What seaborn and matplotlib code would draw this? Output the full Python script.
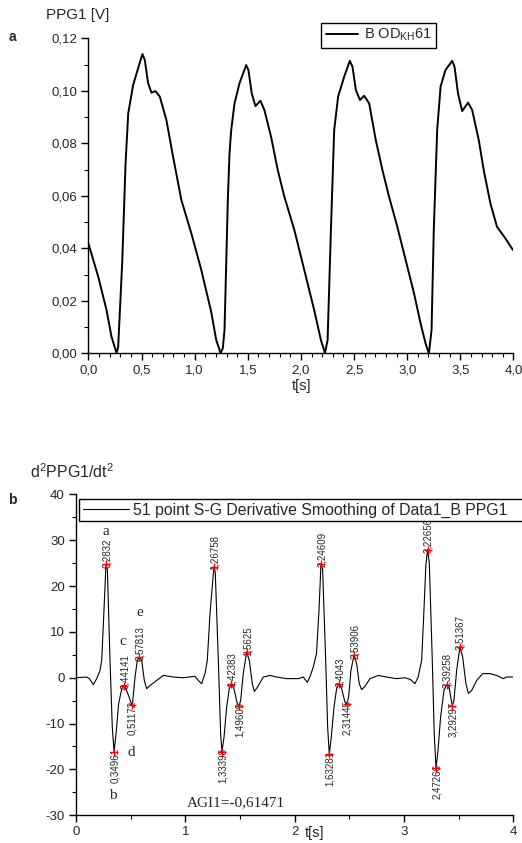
import matplotlib
matplotlib.use("Agg")
import matplotlib.pyplot as plt
import seaborn as sns
import pandas as pd
from matplotlib.ticker import MultipleLocator, FuncFormatter

# --- dane ---
# (a) sygnal PPG1 [V]
ppg_t = [0.000, 0.093, 0.171, 0.218, 0.265, 0.280, 0.318, 0.350, 0.375, 0.421, 0.468, 0.509,
         0.531, 0.562, 0.594, 0.631, 0.672, 0.734, 0.797, 0.875, 0.969, 1.063, 1.156, 1.203,
         1.244, 1.265, 1.281, 1.313, 1.328, 1.344, 1.375, 1.422, 1.485, 1.506, 1.537, 1.572,
         1.619, 1.656, 1.719, 1.782, 1.844, 1.938, 2.032, 2.125, 2.188, 2.226, 2.251, 2.282,
         2.313, 2.350, 2.407, 2.460, 2.485, 2.517, 2.555, 2.595, 2.642, 2.704, 2.767, 2.829,
         2.907, 2.986, 3.064, 3.126, 3.173, 3.204, 3.229, 3.250, 3.282, 3.314, 3.360, 3.423,
         3.445, 3.478, 3.517, 3.573, 3.611, 3.673, 3.720, 3.783, 3.845, 3.924, 3.995]
ppg_v = [0.0419, 0.0292, 0.0165, 0.0063, 0.0002, 0.0023, 0.0343, 0.0724, 0.0914, 0.1022, 0.1086, 0.1140,
         0.1117, 0.1029, 0.0993, 0.0999, 0.0978, 0.0889, 0.0749, 0.0584, 0.0457, 0.0317, 0.0158, 0.0051,
         0.0002, 0.0020, 0.0089, 0.0597, 0.0762, 0.0851, 0.0952, 0.1029, 0.1098, 0.1079, 0.0990, 0.0942,
         0.0962, 0.0927, 0.0825, 0.0698, 0.0597, 0.0470, 0.0317, 0.0165, 0.0051, 0.0002, 0.0051, 0.0470,
         0.0851, 0.0978, 0.1054, 0.1114, 0.1092, 0.1003, 0.0965, 0.0981, 0.0952, 0.0813, 0.0698, 0.0597,
         0.0482, 0.0355, 0.0229, 0.0114, 0.0038, 0.0000, 0.0089, 0.0470, 0.0851, 0.1016, 0.1079, 0.1114,
         0.1092, 0.0990, 0.0923, 0.0955, 0.0927, 0.0813, 0.0698, 0.0571, 0.0482, 0.0438, 0.0394]

# (b) druga pochodna
d2_t = [0.000, 0.098, 0.122, 0.159, 0.189, 0.220, 0.235, 0.256, 0.274, 0.287, 0.311, 0.332,
        0.348, 0.366, 0.390, 0.418, 0.439, 0.463, 0.490, 0.509, 0.518, 0.540, 0.561, 0.579,
        0.601, 0.625, 0.646, 0.677, 0.738, 0.799, 0.890, 0.980, 1.088, 1.119, 1.149, 1.180,
        1.201, 1.226, 1.262, 1.274, 1.302, 1.323, 1.335, 1.354, 1.378, 1.402, 1.421, 1.445,
        1.476, 1.491, 1.506, 1.530, 1.561, 1.585, 1.613, 1.631, 1.659, 1.713, 1.774, 1.835,
        1.927, 2.034, 2.079, 2.116, 2.140, 2.170, 2.200, 2.223, 2.241, 2.256, 2.284, 2.302,
        2.317, 2.335, 2.360, 2.384, 2.405, 2.430, 2.460, 2.476, 2.494, 2.515, 2.543, 2.567,
        2.591, 2.613, 2.643, 2.689, 2.765, 2.841, 2.933, 3.009, 3.061, 3.100, 3.130, 3.162,
        3.183, 3.200, 3.216, 3.232, 3.259, 3.277, 3.293, 3.311, 3.335, 3.366, 3.390, 3.415,
        3.442, 3.457, 3.482, 3.512, 3.537, 3.567, 3.589, 3.619, 3.665, 3.720, 3.787, 3.848,
        3.909, 3.939, 4.000]
d2_v = [0.0, 0.15, -0.2, -1.5, -0.2, 1.6, 3.8, 14.8, 24.7, 23.6, 3.8, -10.8,
        -16.1, -12.3, -5.7, -2.4, -1.7, -2.8, -4.5, -5.9, -5.3, 0.15, 3.8, 4.5,
        3.8, -0.6, -2.4, -1.7, -0.6, 0.5, 0.15, 0.0, 0.3, -0.6, -1.3, 0.9,
        3.8, 14.1, 24.2, 22.9, 3.8, -12.3, -16.1, -13.0, -6.4, -2.4, -1.3, -2.4,
        -5.7, -6.1, -5.0, 0.9, 5.6, 3.8, -1.3, -3.0, -2.1, 0.15, 0.5, 0.15,
        -0.2, -0.2, 0.15, -1.0, 0.2, 2.3, 5.3, 14.8, 24.9, 23.6, 3.8, -10.8,
        -16.7, -13.0, -6.4, -2.4, -1.3, -2.4, -5.3, -5.7, -4.2, 1.6, 4.9, 3.1,
        -1.3, -2.6, -1.9, -0.2, 0.5, 0.15, -0.2, 0.0, -0.4, -1.3, 0.15, 3.8,
        14.8, 24.5, 27.9, 25.0, 3.8, -12.3, -19.6, -16.0, -8.6, -2.8, -1.5, -2.4,
        -6.1, -5.0, 1.6, 6.7, 4.5, -1.3, -3.4, -2.8, -0.6, 0.9, 0.9, 0.5,
        -0.2, 0.15, 0.15]

# punkty charakterystyczne a-e (czerwone krzyzyki)
mk_t = [0.274, 0.348, 0.439, 0.509, 0.579,
        1.262, 1.335, 1.421, 1.491, 1.561,
        2.241, 2.317, 2.405, 2.476, 2.543,
        3.216, 3.293, 3.390, 3.442, 3.512]
mk_v = [24.7, -16.1, -1.7, -5.9, 4.5,
        24.2, -16.1, -1.3, -6.1, 5.6,
        24.9, -16.7, -1.3, -5.7, 4.9,
        27.9, -19.6, -1.5, -6.1, 6.7]
mk_labels = ["0,2832", "0,34961", "0,44141", "0,51172", "0,57813",
             "1,26758", "1,33398", "1,42383", "1,49609", "1,5625",
             "2,24609", "1,63281", "2,4043", "2,31445", "2,53906",
             "3,22656", "2,47266", "3,39258", "3,29297", "3,51367"]
mk_peak = [True, False, True, False, True] * 4

df_ppg = pd.DataFrame({"t": ppg_t, "v": ppg_v})
df_d2 = pd.DataFrame({"t": d2_t, "v": d2_v})
df_mk = pd.DataFrame({"t": mk_t, "v": mk_v})

sns.set_theme(style="ticks")
plt.rcParams["font.family"] = ["Liberation Sans", "DejaVu Sans"]
plt.rcParams["mathtext.default"] = "regular"

fig = plt.figure(figsize=(5.22, 8.43), dpi=100)
ax1 = fig.add_axes([0.1693, 0.5807, 0.8144, 0.3739])
ax2 = fig.add_axes([0.1456, 0.0329, 0.8377, 0.3807])

comma = lambda fmt: FuncFormatter(lambda x, p: fmt.format(x).replace(".", ","))

# ---- panel a ----
sns.lineplot(data=df_ppg, x="t", y="v", ax=ax1, color="black", lw=1.4,
             estimator=None, sort=False, label="B OD$_{KH}$61")
ax1.set_xlim(0, 4)
ax1.set_ylim(0, 0.12)
ax1.xaxis.set_major_locator(MultipleLocator(0.5))
ax1.xaxis.set_minor_locator(MultipleLocator(0.1))
ax1.yaxis.set_major_locator(MultipleLocator(0.02))
ax1.yaxis.set_minor_locator(MultipleLocator(0.01))
ax1.xaxis.set_major_formatter(comma("{:.1f}"))
ax1.yaxis.set_major_formatter(comma("{:.2f}"))
ax1.set_xlabel("")
ax1.set_ylabel("")
ax1.legend(loc="upper left", bbox_to_anchor=(0.6155, 0.9731), bbox_transform=fig.transFigure,
           fancybox=False, edgecolor="black", framealpha=1, fontsize=10.5,
           handlelength=2.2, handletextpad=0.4, borderpad=0.3, borderaxespad=0)

# ---- panel b ----
sns.lineplot(data=df_d2, x="t", y="v", ax=ax2, color="black", lw=0.8,
             estimator=None, sort=False,
             label="51 point S-G Derivative Smoothing of Data1_B PPG1")
sns.scatterplot(data=df_mk, x="t", y="v", ax=ax2, marker="+", color="red",
                s=40, linewidth=1, zorder=4, legend=False)
for t, v, lab, pk in zip(mk_t, mk_v, mk_labels, mk_peak):
    ax2.annotate(lab, (t, v), xytext=(0.5, -2.5 if pk else 2.5), textcoords="offset points",
                 rotation=90, ha="center", va="bottom" if pk else "top", fontsize=7)

ax2.set_xlim(0, 4)
ax2.set_ylim(-30, 40)
ax2.xaxis.set_major_locator(MultipleLocator(1))
ax2.xaxis.set_minor_locator(MultipleLocator(0.5))
ax2.yaxis.set_major_locator(MultipleLocator(10))
ax2.yaxis.set_minor_locator(MultipleLocator(5))
ax2.xaxis.set_major_formatter(comma("{:.0f}"))
ax2.yaxis.set_major_formatter(comma("{:.0f}"))
ax2.set_xlabel("")
ax2.set_ylabel("")
# ramka legendy wychodzi poza prawa krawedz rysunku (jak w oryginale)
leg2 = ax2.legend(loc="upper left", bbox_to_anchor=(0.1519, 0.30, 0.90, 0.1077),
                  bbox_transform=fig.transFigure, mode="expand",
                  fancybox=False, edgecolor="black", framealpha=1, fontsize=11.4,
                  handlelength=2.9, handletextpad=0.3, borderpad=0.22, borderaxespad=0)
leg2.set_zorder(10)

serif = ["Liberation Serif", "DejaVu Serif"]
for txt, x, y in [("a", 0.274, 31.9), ("b", 0.336, -25.6), ("c", 0.427, 7.8),
                  ("d", 0.503, -16.4), ("e", 0.586, 14.2)]:
    ax2.text(x, y, txt, family=serif, fontsize=11, ha="center", va="center")
ax2.text(1.464, -27.3, "AGI1=-0,61471", family=serif, fontsize=11, ha="center", va="center")

for ax in (ax1, ax2):
    sns.despine(ax=ax)
    for s in ("left", "bottom"):
        ax.spines[s].set_color("black")
        ax.spines[s].set_linewidth(1.0)
    ax.tick_params(which="major", direction="out", length=5, width=1, labelsize=9.5, pad=3,
                   color="black")
    ax.tick_params(which="minor", direction="out", length=3, width=0.8, color="black")

fig.text(302 / 522, 1 - 386 / 843, "t[s]", ha="center", va="center", fontsize=10.5)
fig.text(315 / 522, 1 - 833 / 843, "t[s]", ha="center", va="center", fontsize=10.5)
fig.text(46 / 522, 1 - 15 / 843, "PPG1 [V]", ha="left", va="center", fontsize=11)
fig.text(30 / 522, 1 - 472 / 843, "d$^2$PPG1/dt$^2$", ha="left", va="center", fontsize=11.5)
fig.text(12 / 522, 1 - 37 / 843, "a", ha="center", va="center", fontsize=10, fontweight="bold")
fig.text(12 / 522, 1 - 500 / 843, "b", ha="center", va="center", fontsize=10, fontweight="bold")

fig.savefig("out.png", dpi=100)
